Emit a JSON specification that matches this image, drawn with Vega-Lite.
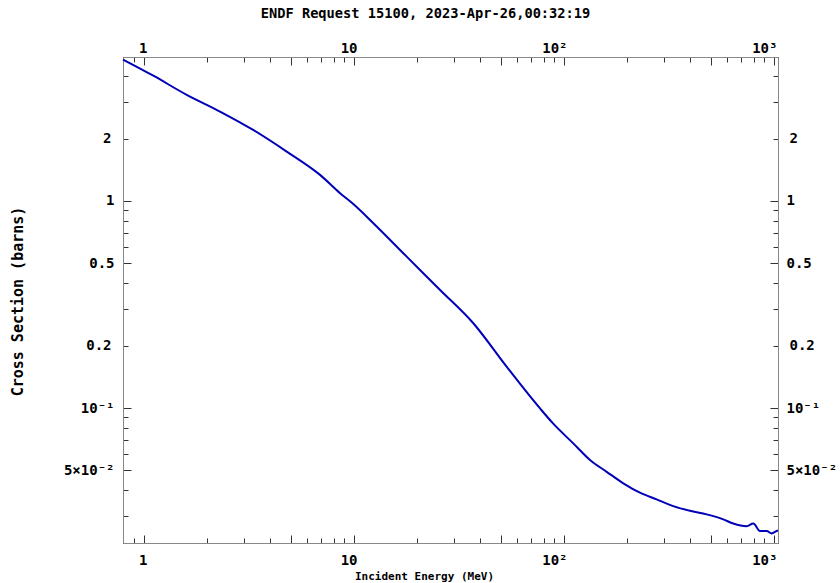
{
  "$schema": "https://vega.github.io/schema/vega-lite/v6.json",
  "width": 655,
  "height": 486,
  "autosize": {"type": "none"},
  "padding": {"left": 123, "top": 57, "right": 62, "bottom": 40},
  "background": "white",
  "title": {
    "text": "ENDF Request 15100, 2023-Apr-26,00:32:19",
    "font": "DejaVu Sans Mono",
    "fontSize": 13.7,
    "fontWeight": "bold",
    "color": "black",
    "anchor": "middle",
    "dx": -25,
    "offset": 17
  },
  "config": {
    "view": {"stroke": "black", "strokeWidth": 1},
    "axis": {
      "grid": false,
      "labelFont": "DejaVu Sans Mono",
      "labelFontSize": 14,
      "labelFontWeight": "bold",
      "labelColor": "black",
      "titleFont": "DejaVu Sans Mono",
      "titleColor": "black",
      "labelFlush": false,
      "labelOverlap": false
    }
  },
  "data": {
    "values": [
      {"E": 0.794, "xs": 4.81},
      {"E": 1.107, "xs": 4.02},
      {"E": 1.597, "xs": 3.25},
      {"E": 2.30, "xs": 2.70},
      {"E": 3.31, "xs": 2.20},
      {"E": 4.78, "xs": 1.73},
      {"E": 6.89, "xs": 1.335},
      {"E": 8.58, "xs": 1.089},
      {"E": 9.92, "xs": 0.965},
      {"E": 12.36, "xs": 0.780},
      {"E": 17.82, "xs": 0.538},
      {"E": 25.7, "xs": 0.3715},
      {"E": 37.0, "xs": 0.2566},
      {"E": 53.3, "xs": 0.1583},
      {"E": 76.9, "xs": 0.0995},
      {"E": 88.9, "xs": 0.0840},
      {"E": 110.7, "xs": 0.0675},
      {"E": 133, "xs": 0.0561},
      {"E": 159.7, "xs": 0.0492},
      {"E": 191.6, "xs": 0.0433},
      {"E": 230, "xs": 0.0390},
      {"E": 276, "xs": 0.0362},
      {"E": 331.5, "xs": 0.0336},
      {"E": 398, "xs": 0.0319},
      {"E": 478, "xs": 0.03065},
      {"E": 573.6, "xs": 0.0290},
      {"E": 640, "xs": 0.0277},
      {"E": 741, "xs": 0.0269},
      {"E": 797, "xs": 0.0277},
      {"E": 857.6, "xs": 0.0255},
      {"E": 923, "xs": 0.0255},
      {"E": 975, "xs": 0.0248},
      {"E": 1030, "xs": 0.0255},
      {"E": 1045, "xs": 0.0256}
    ]
  },
  "layer": [
    {
      "mark": {"type": "line", "color": "#0000b8", "strokeWidth": 2, "interpolate": "monotone"},
      "encoding": {
        "x": {
          "field": "E", "type": "quantitative",
          "scale": {"type": "log", "domain": [0.794, 1045], "nice": false},
          "axis": {
            "orient": "bottom",
            "values": [0.9, 1, 2, 3, 4, 5, 6, 7, 8, 9, 10, 20, 30, 40, 50, 60, 70, 80, 90, 100, 200, 300, 400, 500, 600, 700, 800, 900, 1000],
            "labelExpr": "datum.value==1?'1':datum.value==10?'10':datum.value==100?'10²':datum.value==1000?'10³':''",
            "tickSize": {"condition": {"test": "indexof([1,5,10,50,100,500,1000], datum.value) >= 0", "value": -8}, "value": -5},
            "tickColor": "#333",
            "labelPadding": 18, "labelAlign": "right", "labelOffset": 3,
            "title": "Incident Energy (MeV)", "titleFontSize": 11, "titleFontWeight": "bold",
            "titleX": 301, "titleY": 36, "titleBaseline": "alphabetic"
          }
        },
        "y": {
          "field": "xs", "type": "quantitative",
          "scale": {"type": "log", "domain": [0.0223, 4.95], "nice": false},
          "axis": {
            "orient": "left",
            "values": [4, 3, 2, 1, 0.9, 0.8, 0.7, 0.6, 0.5, 0.4, 0.3, 0.2, 0.1, 0.09, 0.08, 0.07, 0.06, 0.05, 0.04, 0.03],
            "labelExpr": "datum.value==2?'2':datum.value==1?'1':datum.value==0.5?'0.5':datum.value==0.2?'0.2':datum.value==0.1?'10⁻¹':datum.value==0.05?'5×10⁻²':''",
            "tickSize": {"condition": {"test": "indexof([1,0.5,0.1,0.05], datum.value) >= 0", "value": -8}, "value": -5},
            "tickColor": "#333",
            "labelPadding": 17,
            "title": "Cross Section (barns)", "titleFontSize": 15, "titleFontWeight": "bold",
            "titleX": -100.5, "titleY": 244, "titleBaseline": "alphabetic", "titleAngle": -90
          }
        }
      }
    },
    {
      "mark": {"type": "line", "opacity": 0},
      "encoding": {
        "x": {
          "field": "E", "type": "quantitative",
          "axis": {
            "orient": "top",
            "values": [0.9, 1, 2, 3, 4, 5, 6, 7, 8, 9, 10, 20, 30, 40, 50, 60, 70, 80, 90, 100, 200, 300, 400, 500, 600, 700, 800, 900, 1000],
            "labelExpr": "datum.value==1?'1':datum.value==10?'10':datum.value==100?'10²':datum.value==1000?'10³':''",
            "tickSize": {"condition": {"test": "indexof([1,5,10,50,100,500,1000], datum.value) >= 0", "value": -8}, "value": -5},
            "tickColor": "#333",
            "labelPadding": 13, "labelAlign": "right", "labelOffset": 3,
            "labelBaseline": "alphabetic", "title": null
          }
        },
        "y": {
          "field": "xs", "type": "quantitative",
          "axis": {
            "orient": "right",
            "values": [4, 3, 2, 1, 0.9, 0.8, 0.7, 0.6, 0.5, 0.4, 0.3, 0.2, 0.1, 0.09, 0.08, 0.07, 0.06, 0.05, 0.04, 0.03],
            "labelExpr": "datum.value==2?'2':datum.value==1?'1':datum.value==0.5?'0.5':datum.value==0.2?'0.2':datum.value==0.1?'10⁻¹':datum.value==0.05?'5×10⁻²':''",
            "tickSize": {"condition": {"test": "indexof([1,0.5,0.1,0.05], datum.value) >= 0", "value": -8}, "value": -5},
            "tickColor": "#333",
            "labelPadding": 16,
            "title": null
          }
        }
      }
    }
  ],
  "resolve": {"axis": {"x": "independent", "y": "independent"}}
}
